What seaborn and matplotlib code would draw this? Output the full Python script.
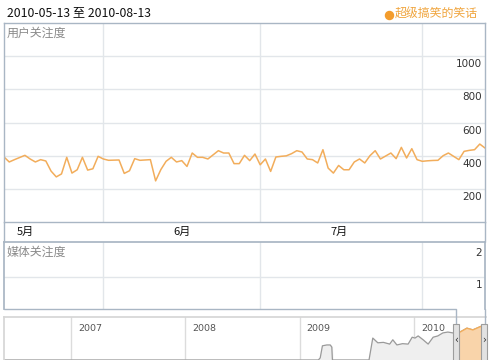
import matplotlib
matplotlib.use("Agg")
import matplotlib.pyplot as plt
import matplotlib.transforms as mtransforms
from matplotlib.lines import Line2D
from matplotlib.patches import Rectangle
import pandas as pd
import seaborn as sns

# daily "user attention" values, 2010-05-13 .. 2010-08-13
user_attention = [
    392, 362, 376, 389, 402, 380, 362, 376, 368, 307,
    272, 290, 390, 295, 315, 390, 313, 321, 396, 380,
    372, 373, 374, 293, 309, 382, 372, 374, 376, 248,
    316, 366, 390, 362, 370, 335, 416, 390, 390, 380,
    405, 430, 416, 416, 352, 352, 402, 370, 410, 345,
    380, 305, 392, 396, 399, 412, 430, 422, 380, 376,
    356, 436, 325, 295, 341, 315, 315, 362, 380, 356,
    400, 430, 380, 398, 416, 382, 450, 386, 442, 376,
    366, 369, 371, 372, 400, 416, 396, 376, 426, 432,
    436, 470, 446,
]
start_date, end_date = "2010-05-13", "2010-08-13"
month_starts = ["2010-06-01", "2010-07-01", "2010-08-01"]
month_label_dates = ["2010-05-17", "2010-06-16", "2010-07-16"]
month_labels = ["5月", "6月", "7月"]
user_ticks = [200, 400, 600, 800, 1000]
media_ticks = [1, 2]

# overview navigator (relative height, 0-100)
nav_dates = [
    "2006-05-31", "2009-03-01", "2009-03-07", "2009-03-14", "2009-03-28",
    "2009-04-08", "2009-04-13", "2009-04-15", "2009-08-10", "2009-08-22",
    "2009-09-07", "2009-09-25", "2009-10-15", "2009-10-25", "2009-11-07",
    "2009-11-25", "2009-12-13", "2009-12-26", "2010-01-04", "2010-01-14",
    "2010-01-30", "2010-02-15", "2010-03-03", "2010-03-18", "2010-04-03",
    "2010-04-19", "2010-05-05", "2010-05-13", "2010-05-28", "2010-06-19",
    "2010-07-08", "2010-07-30", "2010-08-13",
]
nav_values = [
    0, 0, 5, 33, 35,
    35, 30, 0, 0, 51,
    40, 41, 37, 47, 35,
    38, 37, 53, 51, 56,
    47, 37, 53, 56, 63,
    65, 63, 64, 65, 74,
    70, 77, 81,
]
years = ["2007", "2008", "2009", "2010"]

W, H = 490, 360
BORDER = "#a9b6c4"
GRID = "#e2e6ea"
ORANGE = "#f2ad5b"


def box(l, t, r, b):
    return [l / W, 1 - b / H, (r - l) / W, (b - t) / H]


def fig_line(fig, xs, ys, **kw):
    fig.add_artist(Line2D([x / W for x in xs], [1 - y / H for y in ys],
                          transform=fig.transFigure, **kw))


sns.set_theme(style="white")
plt.rcParams["font.family"] = ["Noto Sans CJK SC", "DejaVu Sans"]

dates = pd.date_range(start_date, end_date, freq="D")
df = pd.DataFrame({"date": dates, "value": user_attention})
nav = pd.DataFrame({"date": pd.to_datetime(nav_dates), "value": nav_values})

fig = plt.figure(figsize=(4.9, 3.6), dpi=100)
fig.patch.set_facecolor("white")

# ---- main panel: user attention
ax = fig.add_axes(box(4, 23, 485, 222))
sns.lineplot(data=df, x="date", y="value", ax=ax, color=ORANGE, lw=1.1)
ax.set_xlim(pd.Timestamp(start_date), pd.Timestamp(end_date))
ax.set_ylim(0, 1200)
for v in user_ticks:
    ax.axhline(v, color=GRID, lw=1, zorder=0)
for d in month_starts:
    ax.axvline(pd.Timestamp(d), color=GRID, lw=1, zorder=0)
px = mtransforms.ScaledTranslation(0, -8 / 100, fig.dpi_scale_trans)
for v in user_ticks:
    ax.text(0.994, v, str(v), transform=ax.get_yaxis_transform() + px,
            ha="right", va="center", fontsize=7.5, color="#333333",
            family="DejaVu Sans")
trans_x = ax.get_xaxis_transform()
for d, lab in zip(month_label_dates, month_labels):
    ax.text(pd.Timestamp(d), -0.05, lab, transform=trans_x, ha="center",
            va="center", fontsize=8, color="#111111")
ax.text(0.006, 0.95, "用户关注度", transform=ax.transAxes, ha="left",
        va="center", fontsize=8.6, color="#8a8a8a")
ax.set_xticks([])
ax.set_yticks([])
ax.set_xlabel("")
ax.set_ylabel("")
for s in ax.spines.values():
    s.set_color(BORDER)
    s.set_linewidth(1)

# side borders of the month strip
fig_line(fig, [4, 4], [222, 242], color=BORDER, lw=1)
fig_line(fig, [485, 485], [222, 242], color=BORDER, lw=1)

# ---- media panel
ax2 = fig.add_axes(box(4, 242, 485, 309))
ax2.set_xlim(pd.Timestamp(start_date), pd.Timestamp(end_date))
ax2.set_ylim(0, 2.1)
ax2.axhline(1, color=GRID, lw=1, zorder=0)
for d in month_starts:
    ax2.axvline(pd.Timestamp(d), color=GRID, lw=1, zorder=0)
for v in media_ticks:
    ax2.text(0.994, v, str(v), transform=ax2.get_yaxis_transform() + px,
             ha="right", va="center", fontsize=7.5, color="#333333",
             family="DejaVu Sans")
ax2.text(0.006, 0.84, "媒体关注度", transform=ax2.transAxes, ha="left",
         va="center", fontsize=8.6, color="#8a8a8a")
ax2.set_xticks([])
ax2.set_yticks([])
for name, s in ax2.spines.items():
    s.set_color(BORDER)
    s.set_visible(name != "bottom")

# connector to the navigator selection
fig_line(fig, [4, 456, 456], [309, 309, 324], color=BORDER, lw=1)
fig_line(fig, [485, 485], [309, 324], color=BORDER, lw=1)

# ---- navigator
ax3 = fig.add_axes(box(4, 317, 486, 360))
nav_lo, nav_hi = pd.Timestamp("2006-05-31"), pd.Timestamp("2010-08-19")
ax3.set_xlim(nav_lo, nav_hi)
ax3.set_ylim(0, 100)
ax3.fill_between(nav["date"], nav["value"], color="#efefef", zorder=1)
sns.lineplot(data=nav, x="date", y="value", ax=ax3, color="#9a9a9a",
             lw=0.9, zorder=2)
sel = nav[(nav["date"] >= pd.Timestamp(start_date))]
ax3.fill_between(sel["date"], sel["value"], color="#f9d4aa", zorder=3)
ax3.plot(sel["date"], sel["value"], color=ORANGE, lw=1, zorder=4)
for y in years:
    ax3.axvline(pd.Timestamp(f"{y}-01-01"), color="#dcdcdc", lw=1, zorder=0)
    ax3.text(pd.Timestamp(f"{y}-01-01") + pd.Timedelta(days=22), 0.73, y,
             transform=ax3.get_xaxis_transform(), ha="left", va="center",
             fontsize=6.8, color="#555555", family="DejaVu Sans")
ax3.set_xticks([])
ax3.set_yticks([])
ax3.set_xlabel("")
ax3.set_ylabel("")
for name, s in ax3.spines.items():
    s.set_color("#d6d6d6")
    s.set_visible(name in ("top", "left"))

# selection handles
for l, r, glyph in [(453, 459, "‹"), (481, 487, "›")]:
    rect = Rectangle((l / W, 1 - 362 / H), (r - l) / W, 38 / H,
                     transform=fig.transFigure, facecolor="#e2e2e2",
                     edgecolor="#9d9d9d", lw=0.8, zorder=5)
    fig.add_artist(rect)
    fig.text((l + r) / 2 / W, 1 - 340 / H, glyph, ha="center", va="center",
             fontsize=7, color="#333333", family="DejaVu Sans", zorder=6)

# ---- header
fig.text(7 / W, 1 - 13 / H, "2010-05-13 至 2010-08-13", ha="left",
         va="center", fontsize=8.8, color="#111111")
fig.add_artist(Line2D([388.5 / W], [1 - 14.5 / H], transform=fig.transFigure,
                      marker="o", markersize=5.8, color="#f39c2c", lw=0))
fig.text(478 / W, 1 - 14 / H, "超级搞笑的笑话", ha="right", va="center",
         fontsize=8.6, color="#f0a53e")

fig.savefig("out.png", dpi=100)
